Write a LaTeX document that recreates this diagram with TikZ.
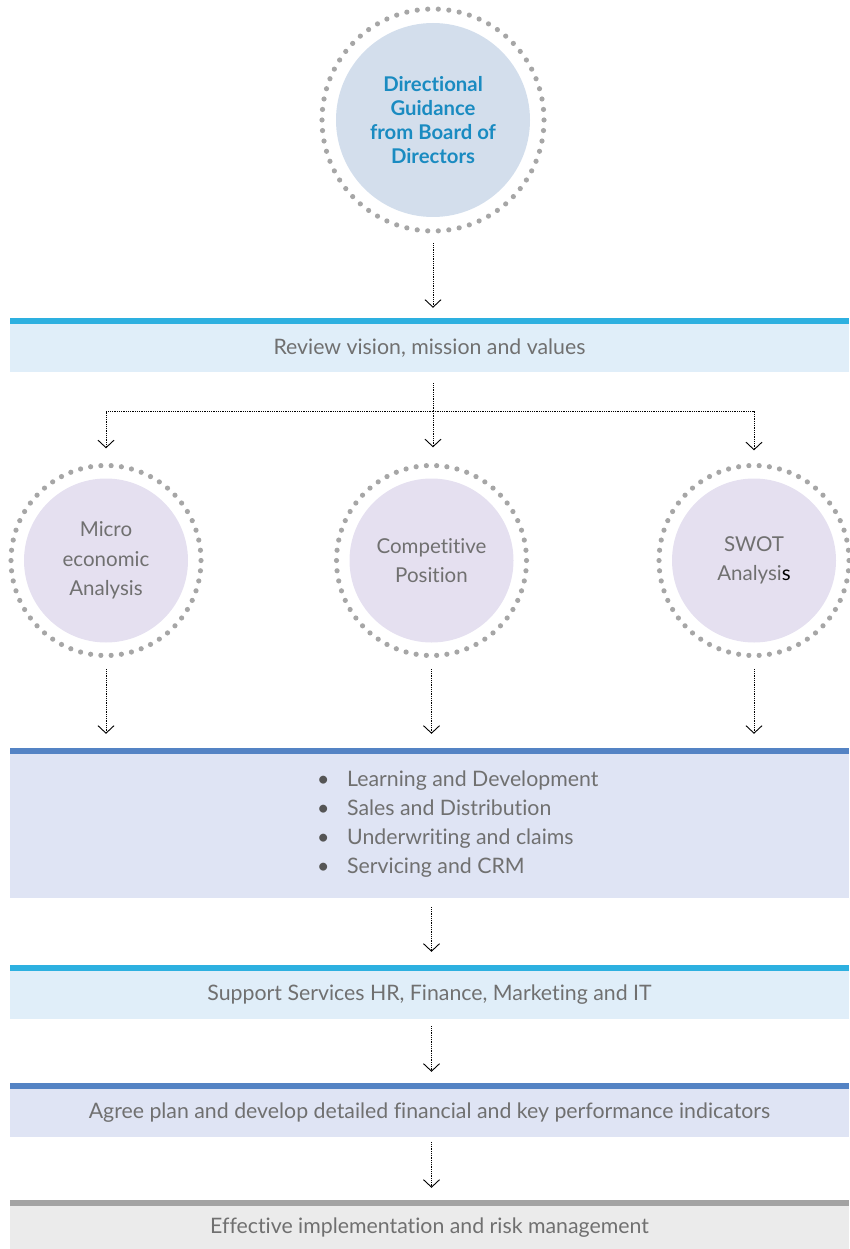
\documentclass[tikz,border=0pt]{standalone}
\usepackage{fontspec}
\setmainfont{Lato}[Ligatures=NoCommon]
\usetikzlibrary{arrows.meta}

\definecolor{txtgrey}{HTML}{707070}
\definecolor{bulletgrey}{HTML}{555555}
\definecolor{cyanbar}{HTML}{2DB0E0}
\definecolor{cyanfill}{HTML}{E0EEF9}
\definecolor{bluebar}{HTML}{5483C4}
\definecolor{bluefill}{HTML}{DFE4F4}
\definecolor{greybar}{HTML}{A3A3A3}
\definecolor{greyfill}{HTML}{EBEBEB}
\definecolor{guidefill}{HTML}{D3DEEC}
\definecolor{guidetext}{HTML}{1A8BC1}
\definecolor{studyfill}{HTML}{E5E0F0}
\definecolor{dotgrey}{HTML}{A6A6A6}

% ring of round dots around a circle: centre, radius, number of dots
\newcommand\dotring[3]{%
  \pgfmathsetmacro\ringstep{360/#3}%
  \foreach \k in {1,...,#3}
    \fill[dotgrey] (#1) ++({\k*\ringstep}:#2) circle (2.6pt);%
}

\begin{document}
\begin{tikzpicture}[x=1pt,y=-1pt,
  bandtext/.style={font=\fontsize{21.3}{24}\selectfont, text=txtgrey},
  band/.style={rectangle, inner sep=0pt, minimum width=839pt,
    minimum height=48pt, bandtext},
  guidecircle/.style={circle, inner sep=0pt, minimum size=194pt,
    fill=guidefill, align=center, text=guidetext,
    font=\fontsize{20.3}{24}\selectfont\bfseries},
  studycircle/.style={circle, inner sep=0pt, minimum size=164pt,
    fill=studyfill, align=center, text=txtgrey,
    font=\fontsize{20.5}{29.5}\selectfont},
  conn/.style={black, line width=0.8pt, dash pattern=on 0.9pt off 0.9pt,
    -{Straight Barb[length=7.5pt,width=16pt,line width=0.9pt]}},
  dotline/.style={black, line width=0.8pt, dash pattern=on 0.9pt off 0.9pt}
]
\useasboundingbox (0,0) rectangle (849,1249);

% ---- guidance circle ----
\node[guidecircle] (guide) at (433,120)
  {Directional\\Guidance\\from Board of\\Directors};
\dotring{guide.center}{111pt}{66}

% ---- bands ----
\node[band, fill=cyanfill] (rev) at (429.5,348) {Review vision, mission and values};
\fill[cyanbar] (rev.north west) rectangle ([yshift=5.5pt]rev.north east);

\node[band, fill=bluefill, minimum height=144pt] (funcs) at (429.5,826) {};
\fill[bluebar] (funcs.north west) rectangle ([yshift=6pt]funcs.north east);
\node[anchor=west, align=left, inner sep=0pt, bandtext,
      font=\fontsize{21.3}{29}\selectfont] (funclist) at (317,824.5)
  {\makebox[30pt][l]{\textcolor{bulletgrey}{\textbullet}}Learning and Development\\
   \makebox[30pt][l]{\textcolor{bulletgrey}{\textbullet}}Sales and Distribution\\
   \makebox[30pt][l]{\textcolor{bulletgrey}{\textbullet}}Underwriting and claims\\
   \makebox[30pt][l]{\textcolor{bulletgrey}{\textbullet}}Servicing and CRM};

\node[band, fill=cyanfill] (supp) at (429.5,995) {Support Services HR, Finance, Marketing and IT};
\fill[cyanbar] (supp.north west) rectangle ([yshift=5.5pt]supp.north east);

\node[band, fill=bluefill] (agree) at (429.5,1113)
  {Agree plan and develop detailed financial and key performance indicators};
\fill[bluebar] (agree.north west) rectangle ([yshift=6pt]agree.north east);

\node[band, fill=greyfill, minimum height=43pt] (eff) at (429.5,1227.5)
  {Effective implementation and risk management};
\fill[greybar] (eff.north west) rectangle ([yshift=6pt]eff.north east);

% ---- analysis circles ----
\node[studycircle] (micro) at (106,560.5) {Micro\\economic\\Analysis};
\dotring{micro.center}{95pt}{58}
\node[studycircle, font=\fontsize{20.5}{28.5}\selectfont] (comp) at (431.5,560.5) {Competitive\\Position};
\dotring{comp.center}{95pt}{58}
\node[studycircle, font=\fontsize{20.5}{28.5}\selectfont] (swot) at (754,560.5) {SWOT\\Analysi\textcolor{black}{s}};
\dotring{swot.center}{95pt}{58}

% ---- connectors ----
\draw[conn, shorten <=26pt, shorten >=16pt] (guide.south) -- (guide.south |- rev.north);

\coordinate (fork) at (guide.south |- 0,411);
\draw[dotline, shorten <=11pt] (guide.south |- rev.south) -- (fork);
\draw[conn, shorten >=31pt] (fork) -- (guide.south |- comp.north);
\draw[conn, shorten >=30pt] (fork) -| (micro.north);
\draw[conn, shorten >=28pt] (fork) -| (swot.north);

\draw[conn, shorten <=26.5pt, shorten >=20pt] (micro.south) -- (micro.south |- funcs.north);
\draw[conn, shorten <=26.5pt, shorten >=20pt] (comp.south) -- (comp.south |- funcs.north);
\draw[conn, shorten <=26.5pt, shorten >=20pt] (swot.south) -- (swot.south |- funcs.north);

\draw[conn, shorten <=9pt, shorten >=19pt] (comp.south |- funcs.south) -- (comp.south |- supp.north);
\draw[conn, shorten <=7pt, shorten >=17pt] (comp.south |- supp.south) -- (comp.south |- agree.north);
\draw[conn, shorten <=5pt, shorten >=18pt] (comp.south |- agree.south) -- (comp.south |- eff.north);
\end{tikzpicture}
\end{document}
